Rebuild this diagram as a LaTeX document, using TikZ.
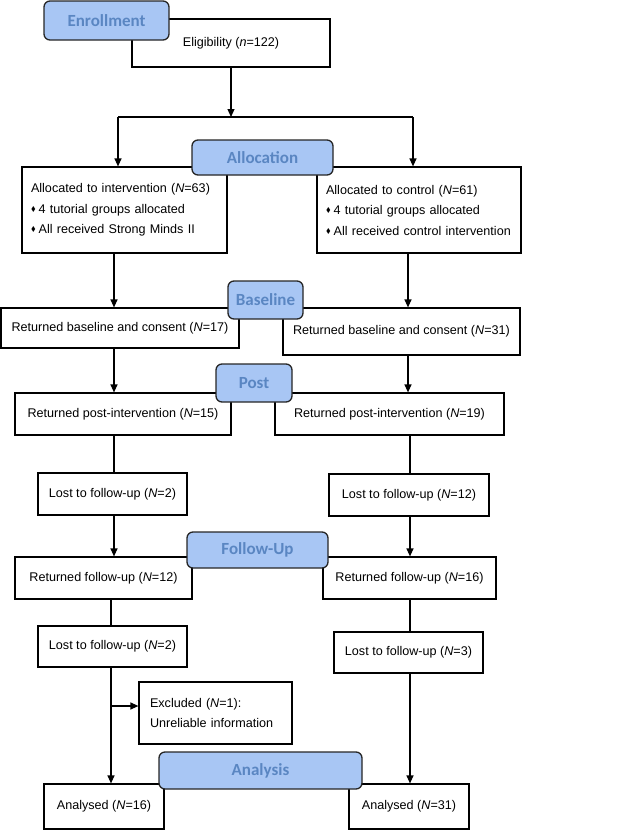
\documentclass[tikz,border=0pt]{standalone}
\usepackage{amsmath,amssymb}
\usepackage{fontspec}
\setmainfont{Liberation Sans}
\newfontfamily\stagefont{Carlito}
\usepackage{xcolor}
\usepackage{tikz}
\usetikzlibrary{arrows.meta, positioning, calc}

\definecolor{stagefill}{HTML}{A8C6F4}
\definecolor{stagetext}{HTML}{5A86C2}
\newcommand{\bul}{\raisebox{2pt}{\scalebox{0.55}{$\blacklozenge$}}\hspace{3pt}}

\begin{document}
\begin{tikzpicture}[x=1pt, y=-1pt,
        box/.style={rectangle, draw, line width=1.2pt, fill=white, inner sep=0pt, align=center, font=\fontsize{12.6}{16}\selectfont},
        listbox/.style={box, align=left, inner xsep=9pt, font=\fontsize{12.6}{20.5}\selectfont},
        stage/.style={rectangle, rounded corners=6pt, draw=black!85, line width=1.3pt, fill=stagefill, text=stagetext, inner sep=0pt, font=\stagefont\bfseries\fontsize{17}{18}\selectfont},
        arrow/.style={line width=1.2pt, -{Triangle[length=8pt, width=7pt]}},
        link/.style={line width=1.2pt}
    ]
        \useasboundingbox (0,0) rectangle (640,830);

        % Columns
        \coordinate (colL) at (114,0);
        \coordinate (colLb) at (111,0);
        \coordinate (colR) at (408,0);
        \coordinate (colRb) at (410,0);

        % Enrollment
        \node[box, minimum width=198pt, minimum height=48pt] (elig) at (231,43) {Eligibility (\textit{n}=122)};

        % Allocation
        \node[listbox, minimum width=205pt, minimum height=86pt, text width=187pt] (allocL) at (124.5,210) {Allocated to intervention (\textit{N}=63)\\\bul 4 tutorial groups allocated\\\bul All received Strong Minds II};
        \node[listbox, minimum width=204pt, minimum height=86pt, text width=186pt] (allocR) at (419,210) {Allocated to control (\textit{N}=61)\\\bul 4 tutorial groups allocated\\\bul All received control intervention};

        % Baseline
        \node[box, minimum width=238pt, minimum height=40pt] (baseL) at (120,328) {Returned baseline and consent (\textit{N}=17)};
        \node[box, minimum width=237pt, minimum height=47pt] (baseR) at (401.5,331.5) {Returned baseline and consent (\textit{N}=31)};

        % Post
        \node[box, minimum width=216pt, minimum height=42pt] (postL) at (123,414) {Returned post-intervention (\textit{N}=15)};
        \node[box, minimum width=229pt, minimum height=42pt] (postR) at (389.5,414) {Returned post-intervention (\textit{N}=19)};
        \node[box, minimum width=149pt, minimum height=42pt] (lostL1) at (112.5,494) {Lost to follow-up (\textit{N}=2)};
        \node[box, minimum width=160pt, minimum height=42pt] (lostR1) at (409,495) {Lost to follow-up (\textit{N}=12)};

        % Follow-Up
        \node[box, minimum width=177pt, minimum height=42pt] (fuL) at (103.5,578) {Returned follow-up (\textit{N}=12)};
        \node[box, minimum width=173pt, minimum height=42pt] (fuR) at (409.5,578) {Returned follow-up (\textit{N}=16)};
        \node[box, minimum width=149pt, minimum height=41pt] (lostL2) at (112.5,646.5) {Lost to follow-up (\textit{N}=2)};
        \node[box, minimum width=149pt, minimum height=41pt] (lostR2) at (408.5,652.5) {Lost to follow-up (\textit{N}=3)};
        \node[listbox, inner xsep=11pt, minimum width=153pt, minimum height=62pt, text width=131pt] (excl) at (215.5,713) {Excluded (\textit{N}=1):\\Unreliable information};

        % Analysis
        \node[box, minimum width=120pt, minimum height=45pt] (anL) at (104,806.5) {Analysed (\textit{N}=16)};
        \node[box, minimum width=120pt, minimum height=45pt] (anR) at (409,806.5) {Analysed (\textit{N}=31)};

        % Connections
        \coordinate (split) at (elig.south |- 0,117);
        \coordinate (splitL) at (118,117);
        \coordinate (splitR) at (413,117);
        \draw[arrow] (elig.south) -- (split);
        \draw[link] (splitL) -- (splitR);
        \draw[arrow] (splitL) -- (allocL.north -| splitL);
        \draw[arrow] (splitR) -- (allocR.north -| splitR);

        \draw[arrow] (allocL.south -| colL) -- (baseL.north -| colL);
        \draw[arrow] (allocR.south -| colR) -- (baseR.north -| colR);
        \draw[arrow] (baseL.south -| colL) -- (postL.north -| colL);
        \draw[arrow] (baseR.south -| colR) -- (postR.north -| colR);
        \draw[link] (postL.south -| colL) -- (lostL1.north -| colL);
        \draw[link] (postR.south -| colRb) -- (lostR1.north -| colRb);
        \draw[arrow] (lostL1.south -| colL) -- (fuL.north -| colL);
        \draw[arrow] (lostR1.south -| colRb) -- (fuR.north -| colRb);
        \draw[link] (fuL.south -| colLb) -- (lostL2.north -| colLb);
        \draw[link] (fuR.south -| colRb) -- (lostR2.north -| colRb);
        \draw[arrow] (lostL2.south -| colLb) -- (anL.north -| colLb);
        \draw[arrow] (lostR2.south -| colRb) -- (anR.north -| colRb);

        \coordinate (exclin) at ([yshift=7pt]excl.west);
        \draw[arrow] (exclin -| colLb) -- (exclin);

        % Stage labels
        \node[stage, minimum width=125pt, minimum height=39pt] (enroll) at (106.5,20.5) {Enrollment};
        \node[stage, minimum width=141pt, minimum height=35pt] (alloc) at (262.5,157.5) {Allocation};
        \node[stage, minimum width=75pt, minimum height=38pt] (base) at (265.5,300) {Baseline};
        \node[stage, minimum width=76pt, minimum height=38pt] (post) at (254,383) {Post};
        \node[stage, minimum width=141pt, minimum height=36pt] (fu) at (257.5,550) {Follow-Up};
        \node[stage, minimum width=203pt, minimum height=37pt] (an) at (260.5,770.5) {Analysis};

    \end{tikzpicture}
\end{document}
